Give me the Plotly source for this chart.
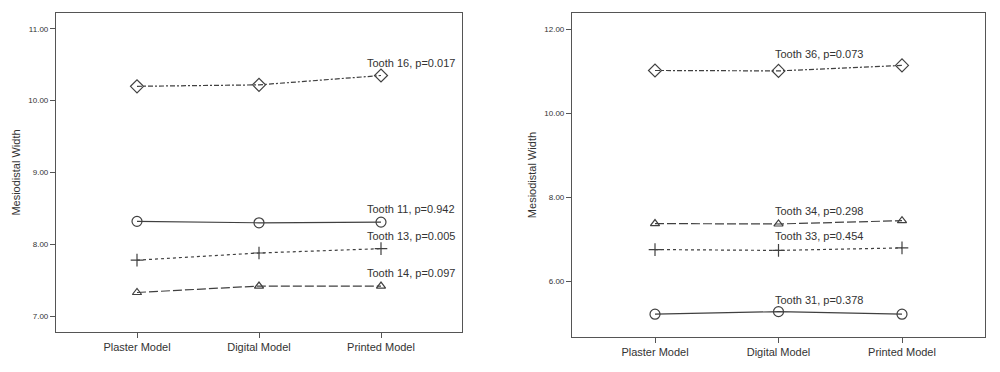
import plotly.graph_objects as go

models = ["Plaster Model", "Digital Model", "Printed Model"]

# Left panel (maxillary teeth)
left_names = ["Tooth 16, p=0.017", "Tooth 11, p=0.942", "Tooth 13, p=0.005", "Tooth 14, p=0.097"]
tooth16 = [10.20, 10.22, 10.35]
tooth11 = [8.32, 8.30, 8.31]
tooth13 = [7.78, 7.88, 7.94]
tooth14 = [7.33, 7.42, 7.42]
left_values = [tooth16, tooth11, tooth13, tooth14]
left_ticks = [7, 8, 9, 10, 11]

# Right panel (mandibular teeth)
right_names = ["Tooth 36, p=0.073", "Tooth 34, p=0.298", "Tooth 33, p=0.454", "Tooth 31, p=0.378"]
tooth36 = [11.02, 11.01, 11.14]
tooth34 = [7.37, 7.36, 7.44]
tooth33 = [6.75, 6.73, 6.79]
tooth31 = [5.21, 5.27, 5.21]
right_values = [tooth36, tooth34, tooth33, tooth31]
right_ticks = [6, 8, 10, 12]

# styles
LC = "#404040"
left_styles = [
    ("diamond-open", 10, "5px,2px,2px,2px"),
    ("circle-open", 10, "solid"),
    ("cross-thin-open", 9, "3px,3px"),
    ("triangle-up-open", 8, "9px,3px"),
]
right_styles = [
    ("diamond-open", 10, "5px,2px,2px,2px"),
    ("triangle-up-open", 8, "9px,3px"),
    ("cross-thin-open", 9, "3px,3px"),
    ("circle-open", 10, "solid"),
]
left_label_shift = [13, 13, 13, 13]
right_label_shift = [17, 13, 14, 12]

fig = go.Figure()
for name, vals, (sym, sz, dash) in zip(left_names, left_values, left_styles):
    fig.add_trace(go.Scatter(x=models, y=vals, mode="lines+markers", name=name,
                             line=dict(color=LC, width=1.2, dash=dash),
                             marker=dict(symbol=sym, size=sz, color=LC,
                                         line=dict(color=LC, width=1.2)),
                             xaxis="x", yaxis="y", showlegend=False))
for name, vals, (sym, sz, dash) in zip(right_names, right_values, right_styles):
    fig.add_trace(go.Scatter(x=models, y=vals, mode="lines+markers", name=name,
                             line=dict(color=LC, width=1.2, dash=dash),
                             marker=dict(symbol=sym, size=sz, color=LC,
                                         line=dict(color=LC, width=1.2)),
                             xaxis="x2", yaxis="y2", showlegend=False))

annotations = []
for name, vals, ys in zip(left_names, left_values, left_label_shift):
    annotations.append(dict(x=models[2], y=vals[2], xref="x", yref="y", text=name,
                            showarrow=False, xanchor="left", yanchor="middle",
                            xshift=-16, yshift=ys,
                            font=dict(family="Arial, Liberation Sans", size=11, color="#333333")))
for name, vals, ys in zip(right_names, right_values, right_label_shift):
    annotations.append(dict(x=models[1], y=vals[1], xref="x2", yref="y2", text=name,
                            showarrow=False, xanchor="left", yanchor="middle",
                            xshift=-6, yshift=ys,
                            font=dict(family="Arial, Liberation Sans", size=11, color="#333333")))

axis_common = dict(showline=True, linecolor="#555555", linewidth=1.2, mirror=True,
                   showgrid=False, zeroline=False, ticks="outside", ticklen=5,
                   tickcolor="#555555", tickwidth=1.2)

fig.update_layout(
    width=1000, height=372,
    margin=dict(l=0, r=0, t=0, b=0),
    paper_bgcolor="white", plot_bgcolor="white",
    font=dict(family="Arial, Liberation Sans", color="#333333"),
    annotations=annotations,
    xaxis=dict(domain=[0.056, 0.462], anchor="y", range=[-0.664, 2.664],
               tickfont=dict(size=11), automargin=False, **axis_common),
    yaxis=dict(domain=[0.1075, 0.965], anchor="x", range=[6.78, 11.22],
               tickvals=left_ticks, ticktext=[f"{v:.2f}" for v in left_ticks],
               tickfont=dict(size=8, color="#333333"),
               title=dict(text="Mesiodistal Width", font=dict(size=11), standoff=5),
               automargin=False, **axis_common),
    xaxis2=dict(domain=[0.572, 0.985], anchor="y2", range=[-0.672, 2.672],
                tickfont=dict(size=11), automargin=False, **axis_common),
    yaxis2=dict(domain=[0.094, 0.965], anchor="x2", range=[4.665, 12.39],
                tickvals=right_ticks, ticktext=[f"{v:.2f}" for v in right_ticks],
                tickfont=dict(size=8, color="#333333"),
                title=dict(text="Mesiodistal Width", font=dict(size=11), standoff=5),
                automargin=False, **axis_common),
)

fig.write_html("out.html", config={"displayModeBar": False},
               post_script="document.body.style.margin='0';")
